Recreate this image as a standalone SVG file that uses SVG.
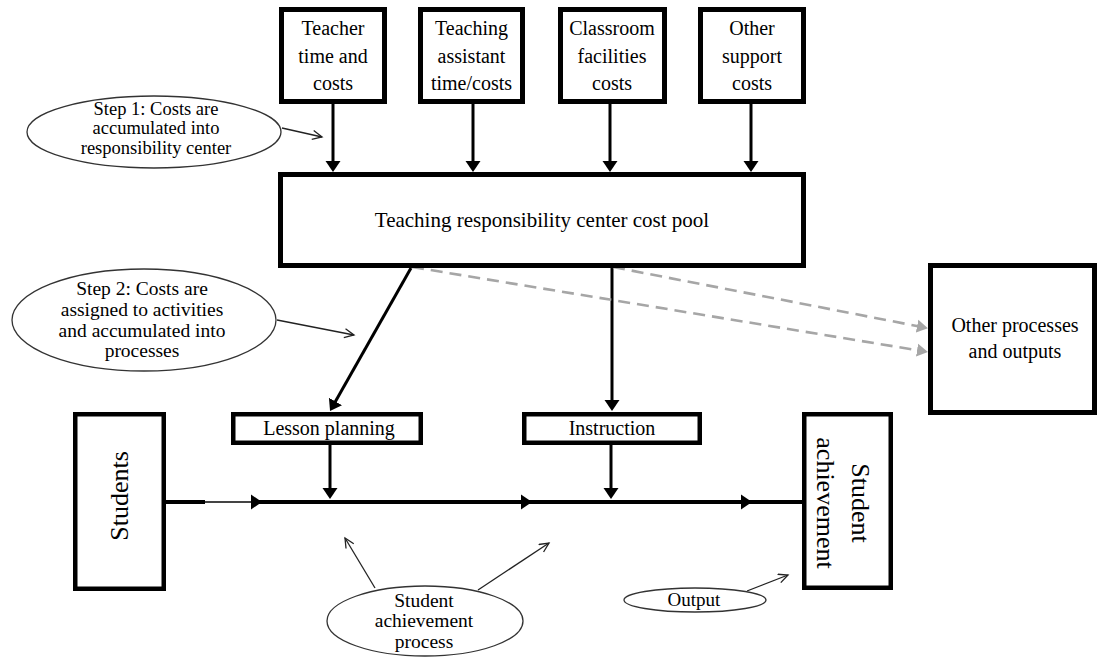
<svg xmlns="http://www.w3.org/2000/svg" width="1101" height="657" viewBox="0 0 1101 657">
  <style>
    .box { fill: #fff; stroke: #000; stroke-width: 5; }
    .sbox { fill: #fff; stroke: #000; stroke-width: 4.5; }
    .oval { fill: #fff; stroke: #333; stroke-width: 1.3; }
    .t { font-family: "Liberation Serif", "Times New Roman", serif; fill: #000; text-anchor: middle; }
    .t20 { font-size: 20px; }
    .t19 { font-size: 19.5px; }
    .t18 { font-size: 18.5px; }
    .t26 { font-size: 26px; }
    .flow { fill: none; stroke: #000; stroke-width: 3; }
    .thin { fill: none; stroke: #222; stroke-width: 1.3; }
    .dash { fill: none; stroke: #a6a6a6; stroke-width: 2.6; stroke-dasharray: 12 7; }
  </style>
  <defs>
    <marker id="ah" markerUnits="userSpaceOnUse" markerWidth="12" markerHeight="16" refX="5" refY="8" orient="auto">
      <path d="M0,0.5 L11,8 L0,15.5 z" fill="#000"/>
    </marker>
    <marker id="ahg" markerUnits="userSpaceOnUse" markerWidth="12" markerHeight="16" refX="5" refY="8" orient="auto">
      <path d="M0,1.5 L11,8 L0,14.5 z" fill="#a6a6a6"/>
    </marker>
    <marker id="open" markerUnits="userSpaceOnUse" markerWidth="12" markerHeight="12" refX="10" refY="5" orient="auto">
      <path d="M0.5,0.5 L10,5 L0.5,9.5" fill="none" stroke="#222" stroke-width="1.3"/>
    </marker>
  </defs>

  <!-- connectors -->
  <g id="connectors">
    <!-- cost inputs into the cost pool -->
    <line class="flow" x1="333" y1="104" x2="333" y2="166" marker-end="url(#ah)"/>
    <line class="flow" x1="473" y1="104" x2="473" y2="166" marker-end="url(#ah)"/>
    <line class="flow" x1="610" y1="104" x2="610" y2="166" marker-end="url(#ah)"/>
    <line class="flow" x1="751" y1="104" x2="751" y2="166" marker-end="url(#ah)"/>
    <!-- cost pool to activities -->
    <line class="flow" x1="411" y1="268" x2="333" y2="405.8" marker-end="url(#ah)"/>
    <line class="flow" x1="612" y1="268" x2="612" y2="405" marker-end="url(#ah)"/>
    <!-- cost pool to other processes -->
    <line class="dash" x1="412" y1="267" x2="922" y2="351" marker-end="url(#ahg)"/>
    <line class="dash" x1="613" y1="267" x2="922" y2="327" marker-end="url(#ahg)"/>
    <!-- activities into the process line -->
    <line class="flow" x1="330" y1="445" x2="330" y2="493" marker-end="url(#ah)"/>
    <line class="flow" x1="611" y1="445" x2="611" y2="493" marker-end="url(#ah)"/>
    <!-- student achievement process line -->
    <line x1="165" y1="502" x2="205" y2="502" stroke="#000" stroke-width="4"/>
    <line x1="205" y1="502" x2="253" y2="502" stroke="#444" stroke-width="2"/>
    <line x1="252" y1="502" x2="802" y2="502" stroke="#000" stroke-width="4"/>
    <polygon points="251,494.5 262,502 251,509.5" fill="#000"/>
    <polygon points="521,494.5 532,502 521,509.5" fill="#000"/>
    <polygon points="741,494.5 752,502 741,509.5" fill="#000"/>
    <!-- callout pointers -->
    <line class="thin" x1="282" y1="128" x2="322" y2="137" marker-end="url(#open)"/>
    <line class="thin" x1="277" y1="320" x2="354" y2="335" marker-end="url(#open)"/>
    <line class="thin" x1="375" y1="588" x2="345" y2="538" marker-end="url(#open)"/>
    <line class="thin" x1="478" y1="590" x2="549" y2="543" marker-end="url(#open)"/>
    <line class="thin" x1="747" y1="591" x2="788" y2="575" marker-end="url(#open)"/>
  </g>

  <!-- cost inputs -->
  <g id="teacher-costs">
    <rect class="box" x="281.5" y="9.5" width="103" height="92"/>
    <text class="t t20" x="333" y="35">Teacher</text>
    <text class="t t20" x="333" y="62.5">time and</text>
    <text class="t t20" x="333" y="90">costs</text>
  </g>
  <g id="assistant-costs">
    <rect class="box" x="420.5" y="9.5" width="102" height="92"/>
    <text class="t t20" x="471.5" y="35">Teaching</text>
    <text class="t t20" x="471.5" y="62.5">assistant</text>
    <text class="t t20" x="471.5" y="90">time/costs</text>
  </g>
  <g id="classroom-costs">
    <rect class="box" x="560.5" y="9.5" width="104" height="92"/>
    <text class="t t20" x="612" y="35">Classroom</text>
    <text class="t t20" x="612" y="62.5">facilities</text>
    <text class="t t20" x="612" y="90">costs</text>
  </g>
  <g id="support-costs">
    <rect class="box" x="700.5" y="9.5" width="103" height="92"/>
    <text class="t t20" x="752" y="35">Other</text>
    <text class="t t20" x="752" y="62.5">support</text>
    <text class="t t20" x="752" y="90">costs</text>
  </g>

  <!-- cost pool -->
  <g id="cost-pool">
    <rect class="box" x="280.5" y="174.5" width="523" height="91"/>
    <text class="t" x="542" y="227" font-size="21">Teaching responsibility center cost pool</text>
  </g>

  <g id="other-processes">
    <rect class="box" x="930.5" y="265.5" width="164" height="147"/>
    <text class="t t20" x="1015" y="332">Other processes</text>
    <text class="t t20" x="1015" y="358">and outputs</text>
  </g>

  <!-- activities -->
  <g id="lesson-planning">
    <rect class="sbox" x="233.25" y="414.25" width="187.5" height="28.5"/>
    <text class="t t20" x="329" y="435">Lesson planning</text>
  </g>
  <g id="instruction">
    <rect class="sbox" x="524.25" y="414.25" width="175.5" height="28.5"/>
    <text class="t t20" x="612" y="435">Instruction</text>
  </g>

  <!-- input and output -->
  <g id="students">
    <rect class="sbox" x="75.25" y="414.25" width="88.5" height="174.5"/>
    <text class="t t26" transform="translate(128,496) rotate(-90)">Students</text>
  </g>
  <g id="student-achievement">
    <rect class="sbox" x="804.25" y="414.25" width="86.5" height="173.5"/>
    <g transform="translate(852,503) rotate(90)">
      <text class="t t26" x="0" y="0">Student</text>
      <text class="t t26" x="0" y="35">achievement</text>
    </g>
  </g>

  <!-- callouts -->
  <g id="step1-note">
    <ellipse class="oval" cx="154" cy="132" rx="127" ry="36"/>
    <text class="t t18" x="156" y="114.5">Step 1: Costs are</text>
    <text class="t t18" x="156" y="134">accumulated into</text>
    <text class="t t18" x="156" y="153.5">responsibility center</text>
  </g>
  <g id="step2-note">
    <ellipse class="oval" cx="144" cy="320" rx="132" ry="51"/>
    <text class="t t19" x="142" y="295">Step 2: Costs are</text>
    <text class="t t19" x="142" y="315.5">assigned to activities</text>
    <text class="t t19" x="142" y="336.5">and accumulated into</text>
    <text class="t t19" x="142" y="357">processes</text>
  </g>
  <g id="process-note">
    <ellipse class="oval" cx="425" cy="621" rx="98" ry="35"/>
    <text class="t t19" x="424" y="607">Student</text>
    <text class="t t19" x="424" y="627">achievement</text>
    <text class="t t19" x="424" y="648">process</text>
  </g>
  <g id="output-note">
    <ellipse class="oval" cx="695" cy="600" rx="71" ry="12"/>
    <text class="t" x="694" y="606" font-size="19">Output</text>
  </g>
</svg>
